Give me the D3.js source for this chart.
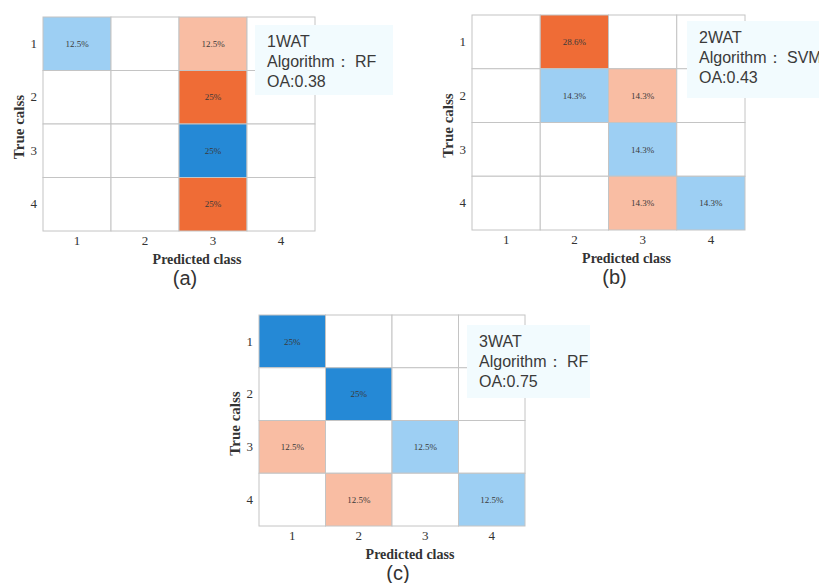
<!DOCTYPE html>
<html>
<head>
<meta charset="utf-8">
<script src="https://cdn.jsdelivr.net/npm/d3@7"></script>
<style>
	body { margin: 0; background: #fff; }
	svg { display: block; }
</style>
</head>
<body>
<div id="chart"></div>
<script>
// classes on both axes
var classes = ["1", "2", "3", "4"];

// confusion matrices, rows = true class, cols = predicted class (percent, 0 = empty)
var matrixA = [
	[12.5, 0, 12.5, 0],
	[0, 0, 25, 0],
	[0, 0, 25, 0],
	[0, 0, 25, 0]
];
var matrixB = [
	[0, 28.6, 0, 0],
	[0, 14.3, 14.3, 0],
	[0, 0, 14.3, 0],
	[0, 0, 14.3, 14.3]
];
var matrixC = [
	[25, 0, 0, 0],
	[0, 25, 0, 0],
	[12.5, 0, 12.5, 0],
	[0, 12.5, 0, 12.5]
];

var panelLetters = ["(a)", "(b)", "(c)"];
var watNames = ["1WAT", "2WAT", "3WAT"];
var algorithms = ["RF", "SVM", "RF"];
var oaValues = ["0.38", "0.43", "0.75"];

// layout of each panel (pixel boxes)
var layouts = [
	{ left: 43, top: 17, width: 272, height: 214, box: { x: 212, y: 8, w: 138, h: 70 } },
	{ left: 472, top: 15, width: 273, height: 215, box: { x: 215, y: 6, w: 140, h: 77 } },
	{ left: 259, top: 315, width: 266, height: 211, box: { x: 208, y: 10, w: 123, h: 73 } }
];
var matrices = [matrixA, matrixB, matrixC];

var svg = d3.select("#chart").append("svg")
	.attr("width", 819)
	.attr("height", 583);

// diagonal -> blue, off diagonal -> orange; two shades each
var blueScale = d3.scaleThreshold().domain([20]).range(["#9dcff3", "#2589d6"]);
var orangeScale = d3.scaleThreshold().domain([20]).range(["#f9bda3", "#ef6c36"]);

function drawPanel(i) {
	var L = layouts[i],
		m = matrices[i];

	var g = svg.append("g")
		.attr("transform", "translate(" + L.left + "," + L.top + ")");

	var x = d3.scaleBand().domain(classes).range([0, L.width]);
	var y = d3.scaleBand().domain(classes).range([0, L.height]);

	var cells = [];
	m.forEach(function (row, r) {
		row.forEach(function (v, c) {
			cells.push({ r: classes[r], c: classes[c], v: v, diag: r == c });
		});
	});

	g.selectAll("rect.cell")
		.data(cells)
		.enter()
		.append("rect")
		.attr("class", "cell")
		.attr("x", function (d) { return x(d.c); })
		.attr("y", function (d) { return y(d.r); })
		.attr("width", x.bandwidth())
		.attr("height", y.bandwidth())
		.style("fill", function (d) {
			if (d.v == 0) return "#ffffff";
			return d.diag ? blueScale(d.v) : orangeScale(d.v);
		})
		.style("stroke", "#c4c4c4")
		.style("stroke-width", 1);

	g.selectAll("text.val")
		.data(cells.filter(function (d) { return d.v > 0; }))
		.enter()
		.append("text")
		.attr("class", "val")
		.attr("x", function (d) { return x(d.c) + x.bandwidth() / 2; })
		.attr("y", function (d) { return y(d.r) + y.bandwidth() / 2; })
		.attr("dy", "0.35em")
		.attr("text-anchor", "middle")
		.style("font-family", "'Liberation Serif', 'DejaVu Serif', serif")
		.style("font-size", "9px")
		.style("fill", "#3a3a3a")
		.text(function (d) { return d.v + "%"; });

	// tick labels
	var xAxis = g.append("g")
		.attr("transform", "translate(0," + L.height + ")")
		.call(d3.axisBottom(x).tickSize(0).tickPadding(5));
	var yAxis = g.append("g")
		.call(d3.axisLeft(y).tickSize(0).tickPadding(6));
	[xAxis, yAxis].forEach(function (ax) {
		ax.select(".domain").remove();
		ax.selectAll("text")
			.style("font-family", "'Liberation Serif', serif")
			.style("font-size", "13px")
			.style("fill", "#333");
	});

	// axis titles
	g.append("text")
		.attr("x", L.width / 2 + 18)
		.attr("y", L.height + 28)
		.attr("dy", "0.35em")
		.attr("text-anchor", "middle")
		.style("font-family", "'Liberation Serif', serif")
		.style("font-weight", "bold")
		.style("font-size", "14px")
		.style("fill", "#333")
		.text("Predicted class");

	g.append("text")
		.attr("transform", "translate(-24," + (L.height / 2 + 3) + ") rotate(-90)")
		.attr("dy", "0.35em")
		.attr("text-anchor", "middle")
		.style("font-family", "'Liberation Serif', serif")
		.style("font-weight", "bold")
		.style("font-size", "15px")
		.style("fill", "#333")
		.text("True calss");

	g.append("text")
		.attr("x", L.width / 2 + 6)
		.attr("y", L.height + 47)
		.attr("dy", "0.35em")
		.attr("text-anchor", "middle")
		.style("font-family", "'Liberation Sans', Arial, sans-serif")
		.style("font-size", "20px")
		.style("fill", "#333")
		.text(panelLetters[i]);

	// annotation box
	var b = L.box;
	g.append("rect")
		.attr("x", b.x)
		.attr("y", b.y)
		.attr("width", b.w)
		.attr("height", b.h)
		.style("fill", "#f2fbfe");

	var lines = [watNames[i], "Algorithm\uff1a " + algorithms[i], "OA:" + oaValues[i]];
	g.selectAll("text.note")
		.data(lines)
		.enter()
		.append("text")
		.attr("class", "note")
		.attr("x", b.x + 12)
		.attr("y", function (d, k) { return b.y + 22 + k * 20; })
		.style("font-family", "'Liberation Sans', Arial, sans-serif")
		.style("font-size", "16px")
		.style("fill", "#3a3a3a")
		.text(function (d) { return d; });
}

[0, 1, 2].forEach(drawPanel);
</script>
</body>
</html>
